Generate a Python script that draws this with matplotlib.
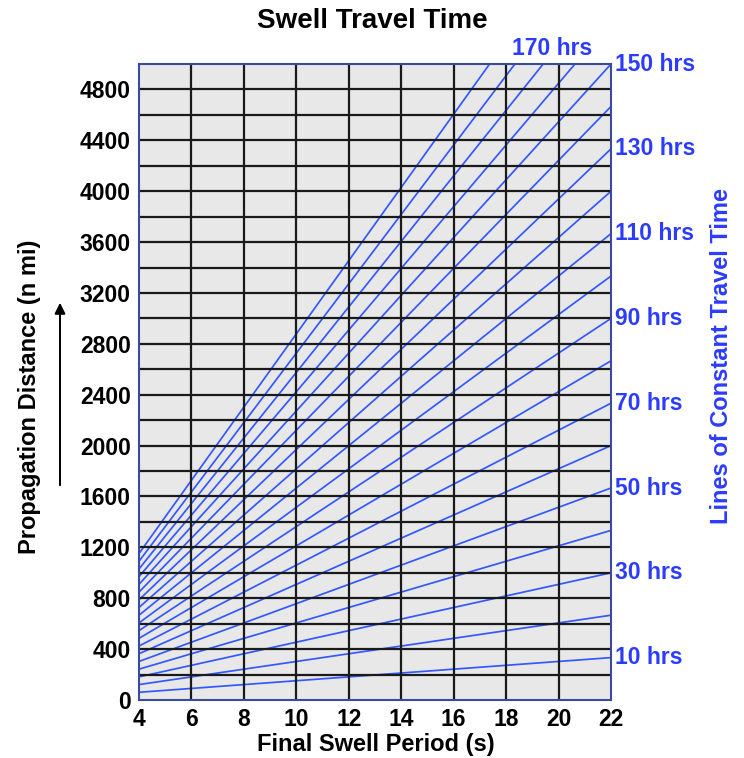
import matplotlib
matplotlib.use("Agg")
import matplotlib.pyplot as plt
import numpy as np

# lines of constant travel time, hours
hours = [10, 20, 30, 40, 50, 60, 70, 80, 90, 100,
         110, 120, 130, 140, 150, 160, 170, 180, 190]
labelled_right = [10, 30, 50, 70, 90, 110, 130, 150]
labelled_top = [170]

# deep water group speed in knots per second of period
cg_knots = 1.515

period_range = [4, 22]
dist_max = 5000
xticks = [4, 6, 8, 10, 12, 14, 16, 18, 20, 22]
yticks = [0, 400, 800, 1200, 1600, 2000, 2400, 2800, 3200, 3600, 4000, 4400, 4800]
ygrid = list(range(200, 5000, 200))

plt.rcParams['font.family'] = ['Liberation Sans', 'DejaVu Sans']
plt.rcParams['font.weight'] = 'bold'

line_blue = '#3358ff'
text_blue = '#2b3cff'

fig = plt.figure(figsize=(7.44, 7.58), dpi=100)
ax = fig.add_axes([139/744, 58/758, 472/744, 636/758])
ax.set_facecolor('#e8e8e8')

T = np.array(period_range, dtype=float)
for h in hours:
    ax.plot(T, cg_knots*T*h, color=line_blue, lw=1.25, zorder=2)

# black grid drawn on top
for y in ygrid:
    ax.axhline(y, color='#1a1a1a', lw=1.6, zorder=3)
for x in xticks[1:-1]:
    ax.axvline(x, color='#1a1a1a', lw=1.6, zorder=3)

ax.set_xlim(period_range)
ax.set_ylim(0, dist_max)
ax.set_xticks(xticks)
ax.set_yticks(yticks)
ax.tick_params(length=0, labelsize=16.5, pad=6)
for lab in ax.get_xticklabels() + ax.get_yticklabels():
    lab.set_fontweight('bold')
for s in ax.spines.values():
    s.set_color('#3c4a9c')
    s.set_linewidth(1.5)
    s.set_zorder(4)

# hour labels on the right edge
for h in labelled_right:
    ax.text(22.15, cg_knots*22*h, f'{h} hrs', color=text_blue, fontsize=16.5,
            fontweight='bold', va='center', ha='left', clip_on=False)
for h in labelled_top:
    t_top = dist_max/(cg_knots*h)
    ax.text(t_top + 0.35, dist_max + 30, f'{h} hrs', color=text_blue, fontsize=16.5,
            fontweight='bold', va='bottom', ha='center', clip_on=False)

fig.text(0.5, 1-21/758, 'Swell Travel Time', fontsize=20, fontweight='bold',
         ha='center', va='center')
fig.text(376/744, 1-745/758, 'Final Swell Period (s)', fontsize=17, fontweight='bold',
         ha='center', va='center')
fig.text(30/744, 1-397/758, 'Propagation Distance (n mi)', fontsize=17, fontweight='bold',
         ha='center', va='center', rotation=90)
fig.text(722/744, 1-356/758, 'Lines of Constant Travel Time', fontsize=17,
         fontweight='bold', color=text_blue, ha='center', va='center', rotation=90)

# arrow beside the distance label
fig.add_artist(matplotlib.patches.FancyArrowPatch(
    (60/744, 1-488/758), (60/744, 1-300/758), transform=fig.transFigure,
    arrowstyle='-|>', mutation_scale=16, lw=1.4, color='black'))

fig.savefig('out.png', dpi=100)
